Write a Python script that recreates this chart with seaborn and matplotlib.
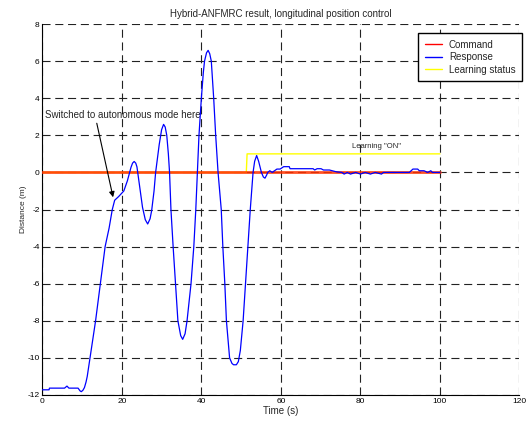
import numpy as np
import pandas as pd
import matplotlib
matplotlib.use("Agg")
import matplotlib.pyplot as plt
import seaborn as sns

# Data
resp_t = [0.0, 1.7, 1.8, 5.6, 6.2, 6.7, 9.0, 9.5, 9.8, 10.2,
          10.6, 11.0, 11.3, 12.0, 12.7, 13.4, 14.0, 14.6, 15.2, 15.8,
          16.3, 16.8, 17.6, 18.2, 19.2, 20.5, 21.4, 22.3, 22.7, 23.1,
          23.5, 23.8, 24.4, 25.2, 25.9, 26.5, 27.1, 27.5, 28.1, 28.5,
          29.4, 30.0, 30.5, 30.9, 31.3, 31.7, 32.0, 32.35, 32.9, 33.5,
          34.1, 34.8, 35.3, 35.9, 36.4, 37.4, 38.1, 38.6, 39.0, 39.4,
          40.0, 40.5, 40.8, 41.3, 41.7, 42.1, 42.5, 43.1, 43.6, 44.2,
          45.0, 45.4, 45.9, 46.3, 47.1, 47.7, 48.1, 48.8, 49.3, 49.8,
          50.5, 51.1, 51.7, 52.3, 53.0, 53.4, 53.9, 54.4, 55.1, 55.6,
          56.0, 56.4, 56.7, 57.2, 57.8, 59.0, 59.8, 60.7, 62.1, 62.3,
          68.1, 68.5, 69.1, 70.1, 70.7, 72.2, 73.8, 75.3, 75.9, 76.7,
          77.5, 78.8, 80.0, 81.2, 82.5, 83.7, 85.3, 85.8, 92.3, 93.2,
          94.4, 94.8, 96.0, 96.9, 97.7, 98.1, 100.0]
resp_v = [-11.72, -11.72, -11.63, -11.63, -11.52, -11.63, -11.63, -11.78, -11.82, -11.75,
          -11.6, -11.3, -11.0, -10.0, -9.0, -8.0, -7.0, -6.0, -5.0, -4.0,
          -3.5, -3.0, -2.0, -1.5, -1.3, -1.0, -0.45, 0.27, 0.5, 0.59,
          0.5, 0.3, -0.63, -1.88, -2.55, -2.78, -2.5, -2.06, -1.0, 0.0,
          1.5, 2.3, 2.59, 2.45, 2.0, 1.0, 0.0, -2.0, -4.0, -6.0,
          -8.0, -8.8, -9.0, -8.7, -8.0, -6.0, -4.0, -2.0, 0.0, 2.0,
          4.0, 5.4, 6.0, 6.45, 6.58, 6.4, 6.0, 4.0, 2.0, 0.0,
          -2.0, -4.0, -6.0, -8.0, -10.0, -10.3, -10.37, -10.37, -10.2, -9.6,
          -8.0, -6.0, -4.0, -2.0, 0.0, 0.6, 0.91, 0.6, 0.0, -0.25,
          -0.31, -0.15, 0.0, 0.09, 0.0, 0.18, 0.18, 0.31, 0.31, 0.2,
          0.2, 0.13, 0.2, 0.2, 0.13, 0.13, 0.04, 0.0, -0.09, 0.0,
          -0.09, 0.0, -0.09, 0.0, -0.09, 0.0, -0.09, 0.0, 0.0, 0.18,
          0.18, 0.09, 0.09, 0.0, 0.09, 0.0, 0.0]

cmd_t = [0, 100]
cmd_v = [0, 0]

learn_t = [0, 51.3, 51.5, 100]
learn_v = [0, 0, 1, 1]

x_ticks = [0, 20, 40, 60, 80, 100, 120]
y_ticks = [-12, -10, -8, -6, -4, -2, 0, 2, 4, 6, 8]

resp = pd.DataFrame({"t": resp_t, "v": resp_v})
cmd = pd.DataFrame({"t": cmd_t, "v": cmd_v})
learn = pd.DataFrame({"t": learn_t, "v": learn_v})

sns.set_style("white")
plt.rcParams['font.family'] = ['Liberation Sans', 'DejaVu Sans']
plt.rcParams['lines.scale_dashes'] = False
plt.rcParams['axes.unicode_minus'] = False

fig = plt.figure(figsize=(5.32, 4.23), dpi=100)
ax = fig.add_axes([0.0795, 0.0662, 0.897, 0.877])

sns.lineplot(data=learn, x="t", y="v", ax=ax, color="#ffff00", lw=1.0,
             label="Learning status", zorder=2)
sns.lineplot(data=cmd, x="t", y="v", ax=ax, color="#ff3300", lw=2.0, alpha=0.85,
             label="Command", zorder=3)
sns.lineplot(data=resp, x="t", y="v", ax=ax, color="#0000ff", lw=0.9,
             label="Response", zorder=4)

ax.set_xlim(0, 120)
ax.set_ylim(-12, 8)
ax.set_xticks(x_ticks)
ax.set_yticks(y_ticks)
ax.grid(True, color="#222222", lw=0.8, ls=(0, (5.8, 3.4)))
ax.set_axisbelow(True)
for s in ["top", "right"]:
    ax.spines[s].set_visible(False)
for s in ["left", "bottom"]:
    ax.spines[s].set_color("black")
    ax.spines[s].set_linewidth(0.8)
ax.tick_params(direction="in", length=3, width=0.7, labelsize=6, pad=2,
               colors="black")

ax.set_title("Hybrid-ANFMRC result, longitudinal position control",
             fontsize=7, pad=5)
ax.set_xlabel("Time (s)", fontsize=7, labelpad=1)
ax.set_ylabel("Distance (m)", fontsize=6, labelpad=0)

ax.text(0.7, 3.1, "Switched to autonomous mode here", fontsize=7,
        ha="left", va="center")
ax.annotate("", xy=(17.8, -1.34), xytext=(13.7, 2.65),
            arrowprops=dict(arrowstyle="-|>", color="black", lw=0.8,
                            mutation_scale=8, shrinkA=0, shrinkB=0))
ax.text(84, 1.42, 'Learning "ON"', fontsize=5.5, ha="center", va="center")

handles, labels = ax.get_legend_handles_labels()
order = [labels.index(n) for n in ["Command", "Response", "Learning status"]]
leg = ax.legend([handles[i] for i in order], [labels[i] for i in order],
                loc="upper right", bbox_to_anchor=(1.006, 0.976),
                borderaxespad=0, fontsize=7, frameon=True, fancybox=False,
                edgecolor="black", framealpha=1, handlelength=1.8,
                handletextpad=0.7, labelspacing=0.25, borderpad=0.7)
leg.get_frame().set_linewidth(1.0)
for h in leg.legend_handles:
    h.set_alpha(1)
    h.set_linewidth(1.0)
leg.legend_handles[0].set_color("red")

fig.savefig("out.png", dpi=100)
